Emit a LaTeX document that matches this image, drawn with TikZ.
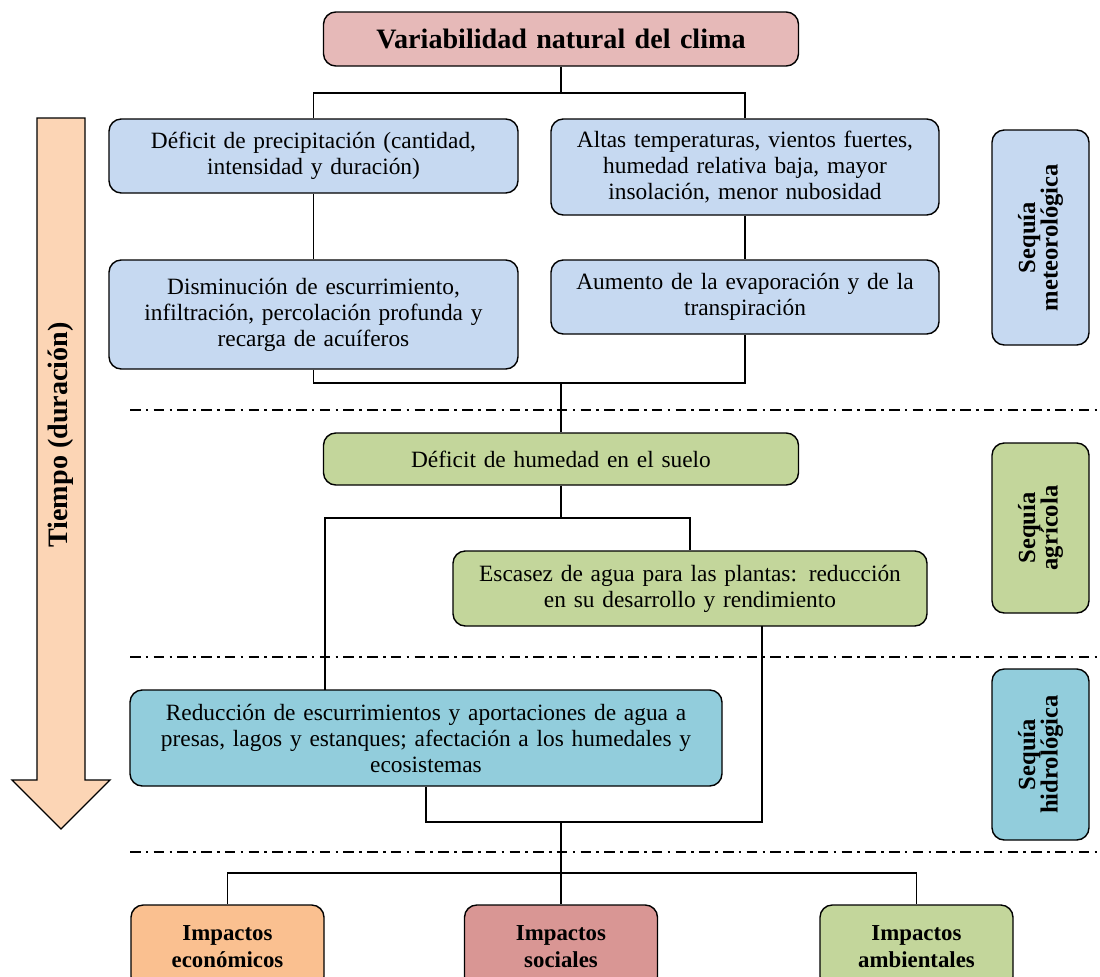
\documentclass[tikz,border=0pt]{standalone}
\usepackage{fontspec}
\setmainfont{Liberation Serif}
\usepackage{tikz}
\usetikzlibrary{arrows}
\usetikzlibrary{calc}
\usetikzlibrary{positioning}
\definecolor{climacolour}{HTML}{E6B9B8}
\definecolor{meteocolour}{HTML}{C6D9F1}
\definecolor{agricolour}{HTML}{C3D69B}
\definecolor{hidrocolour}{HTML}{92CDDC}
\definecolor{tiempocolour}{HTML}{FCD5B5}
\definecolor{econcolour}{HTML}{FAC090}
\definecolor{sociocolour}{HTML}{D99694}
\newcommand\linewd{1pt}
\newcommand\boxwd{.8pt}
\newcommand\txt{\fontsize{13.3}{14.8}\selectfont}
\newcommand\sidetxt{\fontsize{14}{12.8}\selectfont\bfseries}
\newcommand\imptxt{\fontsize{13}{15.3}\selectfont\bfseries}
\tikzstyle{graph}    = [line width=\linewd]
\tikzstyle{box}      = [draw, line width=\boxwd, rounded corners=7pt, align=center, inner sep=2pt, font=\txt]
\tikzstyle{sidebox}  = [box, font=\sidetxt, rotate=90]
\tikzstyle{impacto}  = [box, font=\imptxt]
\tikzstyle{epoch}    = [line width=1.4pt, dash pattern=on 6pt off 3pt on 1.5pt off 3pt]
\tikzset{
    size/.style args={#1 by #2}{
        minimum width=#1*0.02cm, minimum height=#2*0.02cm, text width=#1*0.02cm-4pt
    }
}

\begin{document}
\begin{tikzpicture}[x=0.02cm, y=-0.02cm]
  \useasboundingbox (0, 0) rectangle (1100, 977);
  % tiempo
  \filldraw[fill=tiempocolour, line width=\boxwd] (37, 118) -- (85, 118) -- (85, 780) -- (110, 780)
    -- (61, 829) -- (12, 780) -- (37, 780) -- cycle;
  \draw (61, 435) node[rotate=90, font=\fontsize{16}{18}\selectfont\bfseries] (tiempo) {Tiempo (duración)};
  % epochs
  \draw[epoch] (130, 410) -- (1100, 410);
  \draw[epoch] (130, 657) -- (1100, 657);
  \draw[epoch] (130, 852) -- (1100, 852);
  % nodes
  \draw (561, 39) node[box, fill=climacolour, size=475 by 54, font=\fontsize{16}{18}\selectfont\bfseries] (clima)
    {Variabilidad natural del clima};
  \draw (313.5, 156) node[box, fill=meteocolour, size=409 by 74] (precip)
    {Déficit de precipitación (cantidad,\\ intensidad y duración)};
  \draw (745, 167) node[box, fill=meteocolour, size=388 by 96] (temp)
    {Altas temperaturas, vientos fuertes,\\ humedad relativa baja, mayor\\ insolación, menor nubosidad};
  \draw (313.5, 314.5) node[box, fill=meteocolour, size=409 by 109] (escurr)
    {Disminución de escurrimiento,\\ infiltración, percolación profunda y\\ recarga de acuíferos};
  \draw (745, 297) node[box, fill=meteocolour, size=388 by 74] (evap)
    {Aumento de la evaporación y de la\\ transpiración};
  \draw (561, 459) node[box, fill=agricolour, size=475 by 52] (suelo)
    {Déficit de humedad en el suelo};
  \draw (690, 588.5) node[box, fill=agricolour, size=474 by 75] (plantas)
    {Escasez de agua para las plantas: reducción\\ en su desarrollo y rendimiento};
  \draw (426, 738) node[box, fill=hidrocolour, size=592 by 96] (presas)
    {Reducción de escurrimientos y aportaciones de agua a\\ presas, lagos y estanques; afectación a los humedales y\\ ecosistemas};
  \draw (1040.5, 237.5) node[sidebox, fill=meteocolour, size=215 by 97] (meteo) {Sequía\\ meteorológica};
  \draw (1040.5, 528) node[sidebox, fill=agricolour, size=170 by 97] (agri) {Sequía\\ agrícola};
  \draw (1040.5, 754.5) node[sidebox, fill=hidrocolour, size=171 by 97] (hidro) {Sequía\\ hidrológica};
  \draw (227.5, 947) node[impacto, fill=econcolour, size=193 by 84] (econ) {Impactos\\ económicos};
  \draw (561, 947) node[impacto, fill=sociocolour, size=193 by 84] (soc) {Impactos\\ sociales};
  \draw (916.5, 947) node[impacto, fill=agricolour, size=193 by 84] (amb) {Impactos\\ ambientales};
  % junctions
  \coordinate (j1) at (561, 93);
  \coordinate (j2) at (561, 383);
  \coordinate (j3) at (561, 518);
  \coordinate (gin) at (325, 690);
  \coordinate (fout) at (762, 626);
  \coordinate (j4) at (561, 822);
  \coordinate (j5) at (561, 873);
  % connectors
  \draw[graph] (clima.south) -- (j1);
  \draw[graph] (precip.north) |- (j1) -| (temp.north);
  \draw[graph] (precip) -- (escurr);
  \draw[graph] (temp) -- (evap);
  \draw[graph] (escurr.south) |- (j2) -| (evap.south);
  \draw[graph] (j2) -- (suelo.north);
  \draw[graph] (suelo.south) -- (j3);
  \draw[graph] (gin) |- (j3) -| (plantas.north);
  \draw[graph] (fout) |- (j4) -| (presas.south);
  \draw[graph] (j4) -- (j5);
  \draw[graph] (econ.north) |- (j5) -| (amb.north);
  \draw[graph] (j5) -- (soc.north);
\end{tikzpicture}
\end{document}
